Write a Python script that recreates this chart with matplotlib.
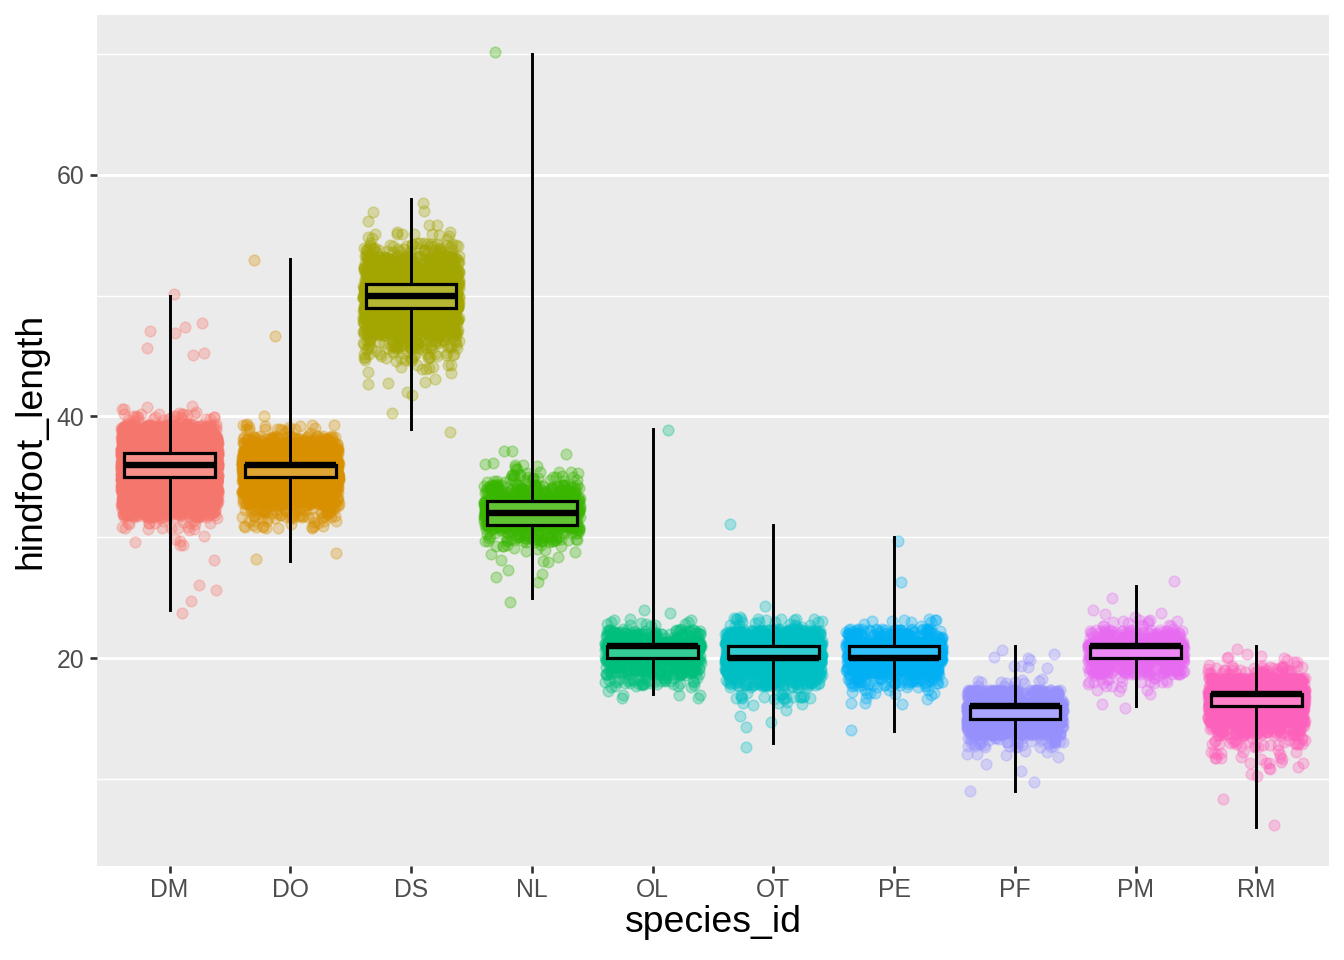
import numpy as np
import matplotlib
matplotlib.use('Agg')
import matplotlib.pyplot as plt
from matplotlib.colors import to_rgb

plt.rcParams['font.family'] = ['Liberation Sans', 'DejaVu Sans']

# species and ggplot hue colours
species = ['DM', 'DO', 'DS', 'NL', 'OL', 'OT', 'PE', 'PF', 'PM', 'RM']
colors = ['#F8766D', '#D89000', '#A3A500', '#39B600', '#00BF7D',
          '#00BFC4', '#00B0F6', '#9590FF', '#E76BF3', '#FF62BC']

# hindfoot lengths (mm) and how many animals had each
dm_len = [24, 25, 26, 28, 29, 30, 31, 32, 33, 34, 35, 36, 37, 38, 39, 40, 41, 45, 46, 47, 48, 50]
dm_n = [1, 1, 2, 1, 2, 4, 20, 150, 600, 1500, 2400, 2600, 1700, 700, 200, 30, 4, 2, 1, 3, 1, 1]
do_len = [28, 29, 31, 32, 33, 34, 35, 36, 37, 38, 39, 40, 47, 53]
do_n = [1, 1, 20, 60, 150, 400, 700, 1000, 400, 120, 20, 1, 1, 1]
ds_len = [39, 40, 42, 43, 44, 45, 46, 47, 48, 49, 50, 51, 52, 53, 54, 55, 56, 57, 58]
ds_n = [1, 1, 2, 4, 10, 30, 70, 150, 220, 400, 420, 330, 220, 120, 50, 12, 3, 2, 1]
nl_len = [25, 26, 27, 28, 29, 30, 31, 32, 33, 34, 35, 36, 37, 70]
nl_n = [1, 1, 3, 4, 12, 60, 170, 300, 220, 100, 30, 8, 3, 1]
ol_len = [17, 18, 19, 20, 21, 22, 23, 24, 39]
ol_n = [6, 40, 120, 220, 300, 100, 12, 2, 1]
ot_len = [13, 14, 15, 16, 17, 18, 19, 20, 21, 22, 23, 24, 31]
ot_n = [1, 1, 2, 6, 20, 100, 300, 800, 550, 180, 25, 1, 1]
pe_len = [14, 16, 17, 18, 19, 20, 21, 22, 23, 26, 30]
pe_n = [1, 3, 12, 60, 170, 380, 280, 100, 10, 1, 1]
pf_len = [9, 10, 11, 12, 13, 14, 15, 16, 17, 18, 19, 20, 21]
pf_n = [1, 1, 2, 6, 40, 200, 420, 500, 180, 12, 4, 4, 1]
pm_len = [16, 17, 18, 19, 20, 21, 22, 23, 24, 25, 26]
pm_n = [2, 4, 20, 100, 230, 320, 90, 15, 3, 1, 1]
rm_len = [6, 8, 10, 11, 12, 13, 14, 15, 16, 17, 18, 19, 20, 21]
rm_n = [1, 1, 2, 8, 15, 30, 100, 300, 700, 900, 250, 50, 8, 1]

lengths = [dm_len, do_len, ds_len, nl_len, ol_len, ot_len, pe_len, pf_len, pm_len, rm_len]
counts = [dm_n, do_n, ds_n, nl_n, ol_n, ot_n, pe_n, pf_n, pm_n, rm_n]

samples = [np.repeat(l, n).astype(float) for l, n in zip(lengths, counts)]
positions = np.arange(1, len(species) + 1)

fig = plt.figure(figsize=(7, 5), dpi=192)
ax = fig.add_axes([0.0722, 0.098, 0.9166, 0.886])
ax.set_facecolor('#EBEBEB')


def spread(k, a, b):
    # deterministic hash in [0, 1) used as jitter offset
    h = np.sin(k * a + b) * 43758.5453
    return h - np.floor(h)


# jitter of +-0.4 in x and y, like geom_jitter
for pos, vals, col in zip(positions, samples, colors):
    k = np.arange(1, len(vals) + 1) + pos * 10000.0
    u = spread(k, 12.9898, 0.0)
    v = spread(k, 78.233, 1.7)
    ax.scatter(pos + (u - 0.5) * 0.8, vals + (v - 0.5) * 0.8, s=16,
               color=col, alpha=0.3, linewidths=0.6, edgecolors=col, zorder=2)

bp = ax.boxplot(samples, positions=positions, widths=0.75, whis=(0, 100),
                patch_artist=True, showfliers=False, showcaps=False,
                manage_ticks=False, zorder=3,
                boxprops=dict(edgecolor='black', linewidth=1.2),
                whiskerprops=dict(color='black', linewidth=1.1),
                medianprops=dict(color='black', linewidth=2.4))
for patch, col in zip(bp['boxes'], colors):
    r, g, b = to_rgb(col)
    patch.set_facecolor((r + 0.2 * (1 - r), g + 0.2 * (1 - g), b + 0.2 * (1 - b)))

lo = min(min(l) for l in lengths)
hi = max(max(l) for l in lengths)
span = hi - lo
ax.set_ylim(lo - 0.05 * span, hi + 0.05 * span)
ax.set_xlim(0.4, len(species) + 0.6)

ax.set_yticks([20, 40, 60])
ax.set_yticks([10, 30, 50, 70], minor=True)
ax.set_xticks(positions)
ax.set_xticklabels(species)
ax.grid(axis='y', which='major', color='white', linewidth=1.1, zorder=0)
ax.grid(axis='y', which='minor', color='white', linewidth=0.55, zorder=0)
ax.set_axisbelow(True)
ax.tick_params(axis='both', which='major', length=2.7, width=1.0, color='#333333',
               labelcolor='#4D4D4D', labelsize=9.3, pad=2)
ax.tick_params(axis='y', which='minor', length=0)
for s in ax.spines.values():
    s.set_visible(False)

ax.set_xlabel('species_id', fontsize=14, labelpad=1)
ax.set_ylabel('hindfoot_length', fontsize=14, labelpad=3)

fig.savefig('out.png', dpi=192)
